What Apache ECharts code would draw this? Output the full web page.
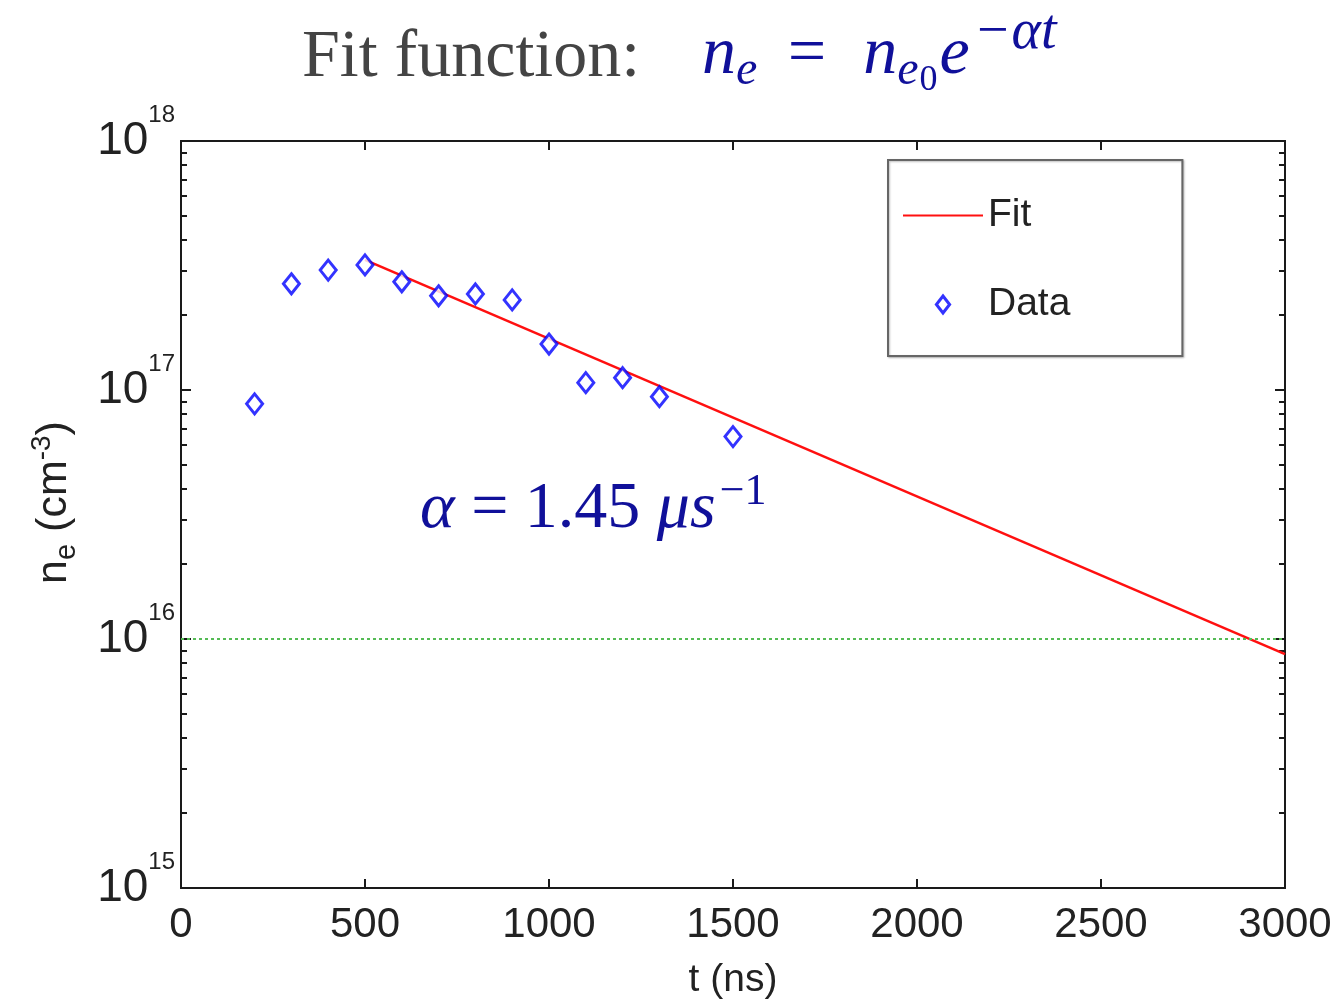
<!DOCTYPE html>
<html>
<head>
<meta charset="utf-8">
<script src="https://cdn.jsdelivr.net/npm/echarts@6/dist/echarts.min.js"></script>
<style>html,body{margin:0;padding:0;background:#fff;}#chart{width:1343px;height:1003px;}</style>
</head>
<body>
<div id="chart"></div>
<script>
// ---- data ----
var timeNs = [200, 300, 400, 500, 600, 700, 800, 900, 1000, 1100, 1200, 1300, 1500];
var density = [8.8e16, 2.67e17, 3.03e17, 3.18e17, 2.72e17, 2.39e17, 2.43e17, 2.30e17, 1.53e17, 1.07e17, 1.12e17, 9.4e16, 6.5e16];
var fitTime = [500, 3000];
var fitDensity = [3.33e17, 8.7e15];
var thresholdDensity = [1e16];
var xTicks = [0, 500, 1000, 1500, 2000, 2500, 3000];
var yMajorTicks = [1e15, 1e16, 1e17, 1e18];
var yMinorTicks = [];
for (var d = 15; d < 18; d++) { for (var m = 2; m <= 9; m++) { yMinorTicks.push(m * Math.pow(10, d)); } }

var chart = echarts.init(document.getElementById('chart'));
var axisCol = '#1a1a1a';
var sans = 'Liberation Sans, Arial, sans-serif';
var serif = 'Liberation Serif, DejaVu Serif, serif';
var blue = '#10109a';
var txt = '#222';

function logAxis(pos, showLabel, ticks, len) {
  return {
    type: 'log', logBase: 10, min: 1e15, max: 1e18, position: pos,
    axisLine: {show: true, onZero: false, lineStyle: {color: axisCol, width: 2}},
    axisTick: {show: true, inside: true, length: len, customValues: ticks, lineStyle: {color: axisCol, width: 2}},
    splitLine: {show: false},
    axisLabel: showLabel ? {
      show: true, margin: 6, showMaxLabel: true, showMinLabel: true, hideOverlap: false,
      formatter: function (v) { return '{b|10}{s|' + Math.round(Math.log10(v)) + '}'; },
      rich: {
        b: {fontSize: 46, fontFamily: sans, color: txt},
        s: {fontSize: 24, fontFamily: sans, color: txt, padding: [0, 0, 52, 0]}
      }
    } : {show: false}
  };
}

chart.setOption({
  animation: false,
  backgroundColor: '#fff',
  title: {
    left: 297, top: 0,
    text: '{a|Fit function:}{gap| }{n|n}{sb|e}{n|=  n}{sb2|e}{ss|0}{n|e}{sp|−αt}',
    textStyle: {
      fontWeight: 'normal',
      rich: {
        a: {fontSize: 68, fontFamily: serif, fontWeight: 'normal', color: '#444', padding: [10, 0, 0, 0]},
        gap: {fontSize: 58, width: 62},
        n: {fontSize: 68, fontFamily: serif, fontStyle: 'italic', fontWeight: 'normal', color: blue, padding: [4, 0, 0, 0]},
        sb: {fontSize: 48, fontFamily: serif, fontStyle: 'italic', fontWeight: 'normal', color: blue, padding: [36, 26, 0, 0]},
        sb2: {fontSize: 48, fontFamily: serif, fontStyle: 'italic', fontWeight: 'normal', color: blue, padding: [36, 1, 0, 0]},
        ss: {fontSize: 36, fontFamily: serif, fontWeight: 'normal', color: blue, padding: [56, 2, 0, 0]},
        sp: {fontSize: 56, fontFamily: serif, fontStyle: 'italic', fontWeight: 'normal', color: blue, padding: [0, 0, 40, 4]}
      }
    }
  },
  legend: {
    left: 888, top: 160, orient: 'vertical',
    padding: [36, 112, 32, 15],
    itemGap: 50, itemWidth: 80, itemHeight: 17,
    backgroundColor: '#fff', borderColor: '#666', borderWidth: 2,
    shadowColor: 'rgba(0,0,0,0.25)', shadowBlur: 2, shadowOffsetX: 1, shadowOffsetY: 1,
    textStyle: {fontSize: 39, fontFamily: sans, color: txt, padding: [4, 0, 0, 0]},
    data: [
      {name: 'Fit', icon: 'path://M0,0H80V2.2H0Z', itemStyle: {color: '#ff1010', borderWidth: 0}},
      {name: 'Data', icon: 'path://M7,0L14,9L7,18L0,9Z', itemStyle: {color: '#fff', borderColor: '#0000ff', borderWidth: 3}}
    ]
  },
  grid: {left: 181, right: 58, top: 141, bottom: 115, containLabel: false, outerBoundsMode: 'none'},
  xAxis: [
    {
      type: 'value', min: 0, max: 3000, interval: 500, position: 'bottom',
      name: 't (ns)', nameLocation: 'middle', nameGap: 73,
      nameTextStyle: {fontSize: 39, fontFamily: sans, color: txt},
      axisLine: {show: true, onZero: false, lineStyle: {color: axisCol, width: 2}},
      axisTick: {show: true, inside: true, length: 9, lineStyle: {color: axisCol, width: 2}},
      splitLine: {show: false},
      axisLabel: {fontSize: 42, fontFamily: sans, color: txt, margin: 16,
        formatter: function (v) { return String(v); }}
    },
    {
      type: 'value', min: 0, max: 3000, interval: 500, position: 'top',
      axisLine: {show: true, onZero: false, lineStyle: {color: axisCol, width: 2}},
      axisTick: {show: true, inside: true, length: 9, lineStyle: {color: axisCol, width: 2}},
      splitLine: {show: false}, axisLabel: {show: false}
    }
  ],
  yAxis: [
    Object.assign(logAxis('left', true, yMajorTicks, 10), {
      name: '{n|n}{sb|e}{n| (cm}{sp|-3}{n|)}', nameLocation: 'middle', nameGap: 100, nameRotate: 90,
      nameTextStyle: {
        padding: [0, 0, 0, 24],
        rich: {
          n: {fontSize: 43, fontFamily: sans, color: txt},
          sb: {fontSize: 29, fontFamily: sans, color: txt, padding: [24, 0, 0, 0]},
          sp: {fontSize: 28, fontFamily: sans, color: txt, padding: [0, 0, 24, 0]}
        }
      }
    }),
    logAxis('right', false, yMajorTicks, 10),
    logAxis('left', false, yMinorTicks, 6),
    logAxis('right', false, yMinorTicks, 6)
  ],
  series: [
    {
      name: 'Fit', type: 'line', xAxisIndex: 0, yAxisIndex: 0,
      data: fitTime.map(function (t, i) { return [t, fitDensity[i]]; }),
      symbol: 'none', lineStyle: {color: '#ff1010', width: 2.5},
      itemStyle: {color: '#ff1010'},
      markLine: {
        silent: true, symbol: 'none', label: {show: false},
        lineStyle: {color: '#55bb55', type: [3, 3], width: 2},
        data: thresholdDensity.map(function (v) { return {yAxis: v}; })
      },
      z: 3
    },
    {
      name: 'Data', type: 'scatter', xAxisIndex: 0, yAxisIndex: 0,
      data: timeNs.map(function (t, i) { return [t, density[i]]; }),
      symbol: 'diamond', symbolSize: [16, 20],
      itemStyle: {color: '#fff', borderColor: '#0000ff', borderWidth: 3},
      z: 4
    }
  ],
  graphic: [{
    type: 'text', left: 420, top: 470,
    style: {
      text: '{g|α}{t| = 1.45 }{g|μs}{sp|−1}',
      rich: {
        g: {fontSize: 66, fontFamily: serif, fontStyle: 'italic', fill: blue},
        t: {fontSize: 66, fontFamily: serif, fill: blue},
        sp: {fontSize: 44, fontFamily: serif, fill: blue, padding: [0, 0, 36, 4]}
      }
    }
  }]
});
</script>
</body>
</html>
